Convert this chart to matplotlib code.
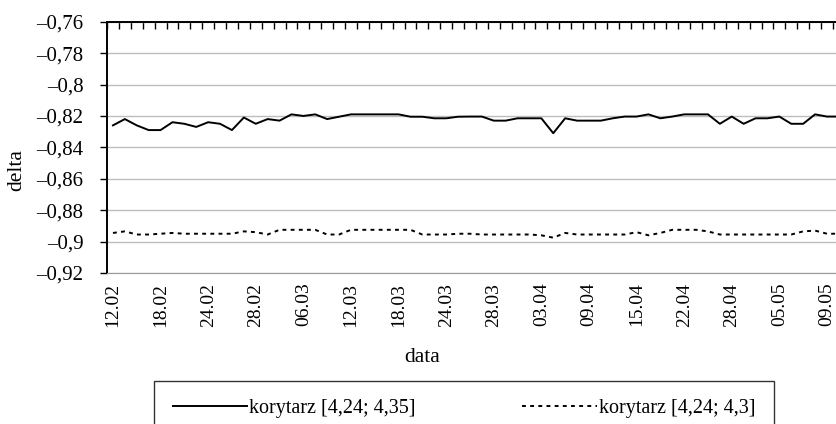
import matplotlib.pyplot as plt
import numpy as np
from matplotlib.ticker import FixedLocator, FuncFormatter

plt.rcParams['font.family'] = ['Liberation Serif', 'DejaVu Serif']
plt.rcParams['font.size'] = 14

date_labels = ['12.02', '18.02', '24.02', '28.02', '06.03', '12.03', '18.03', '24.03',
               '28.03', '03.04', '09.04', '15.04', '22.04', '28.04', '05.05', '09.05']
label_step = 4

delta_435 = [-0.826, -0.822, -0.826, -0.829, -0.829, -0.824, -0.825, -0.827, -0.824, -0.825,
             -0.829, -0.821, -0.825, -0.822, -0.823, -0.819, -0.820, -0.819, -0.822, -0.8205,
             -0.819, -0.819, -0.819, -0.819, -0.819, -0.8205, -0.8205, -0.8215, -0.8215, -0.8205,
             -0.8204, -0.8204, -0.823, -0.823, -0.8215, -0.8215, -0.8215, -0.831, -0.8215, -0.823,
             -0.823, -0.823, -0.8215, -0.8204, -0.8204, -0.819, -0.8215, -0.8204, -0.819, -0.819,
             -0.819, -0.825, -0.8204, -0.825, -0.8215, -0.8215, -0.8204, -0.825, -0.825, -0.819,
             -0.8204, -0.8204]

delta_43 = [-0.8945, -0.8935, -0.8955, -0.8955, -0.895, -0.8945, -0.895, -0.895, -0.895, -0.895,
            -0.895, -0.8935, -0.894, -0.8955, -0.8925, -0.8925, -0.8925, -0.8925, -0.8955, -0.8955,
            -0.8925, -0.8925, -0.8925, -0.8925, -0.8925, -0.8925, -0.8955, -0.8955, -0.8955, -0.895,
            -0.895, -0.8955, -0.8955, -0.8955, -0.8955, -0.8955, -0.896, -0.8975, -0.8945, -0.8955,
            -0.8955, -0.8955, -0.8955, -0.8955, -0.894, -0.896, -0.8945, -0.8925, -0.8925, -0.8925,
            -0.8935, -0.8955, -0.8955, -0.8955, -0.8955, -0.8955, -0.8955, -0.8955, -0.8935, -0.893,
            -0.895, -0.895]

x = np.arange(len(delta_435))

fig = plt.figure(figsize=(8.36, 4.24), dpi=100)
ax = fig.add_axes([107 / 836, 1 - 273 / 424, 1 - 107 / 836, (273 - 21.7) / 424])

ax.plot(x, delta_435, color='black', lw=1.4, label='korytarz [4,24; 4,35]')
ax.plot(x, delta_43, color='black', lw=1.4, linestyle=(0, (2, 2.2)), label='korytarz [4,24; 4,3]')

ax.set_ylim(-0.92, -0.76)
ax.set_yticks(np.arange(-0.92, -0.7599, 0.02))
ax.yaxis.set_major_formatter(FuncFormatter(lambda v, p: ('–' + f'{abs(v):.2f}'.rstrip('0')).replace('.', ',')))
ax.grid(axis='y', color='#bdbdbd', lw=1)
ax.set_axisbelow(True)

ax.set_xlim(-0.5, 60.76)
ax.set_xticks(x[::label_step][:len(date_labels)])
ax.set_xticklabels(date_labels, rotation=90)
ax.xaxis.set_minor_locator(FixedLocator(np.arange(-0.5, 61, 1)))
ax.tick_params(axis='x', which='major', length=0, pad=7, labelsize=14)
ax.tick_params(axis='x', which='minor', bottom=False, top=True, direction='in', length=5, width=1)
ax.tick_params(axis='y', direction='out', length=5, width=1, pad=12, labelsize=15)

ax.spines['right'].set_visible(False)
ax.spines['bottom'].set_color('#9a9a9a')
ax.spines['top'].set_linewidth(1.4)
ax.spines['left'].set_linewidth(1.4)

ax.set_xlabel('data', fontsize=15.5)
ax.xaxis.label.set_va('center')
ax.xaxis.set_label_coords((422 - 107) / 729, -(357 - 273) / 251.3)
ax.set_ylabel('delta', fontsize=15.5)
ax.yaxis.label.set_va('center')
ax.yaxis.set_label_coords((17 - 107) / 729, (273 - 170) / 251.3)

leg = fig.legend(loc='upper center', bbox_to_anchor=(464 / 836, 1 - 381 / 424), ncol=2, frameon=True,
                 fancybox=False, edgecolor='black', fontsize=14.5, handlelength=3.7,
                 handletextpad=0.1, columnspacing=5.3, borderpad=0.9, borderaxespad=0)
leg.get_frame().set_linewidth(1)

fig.savefig('out.png', dpi=100)
